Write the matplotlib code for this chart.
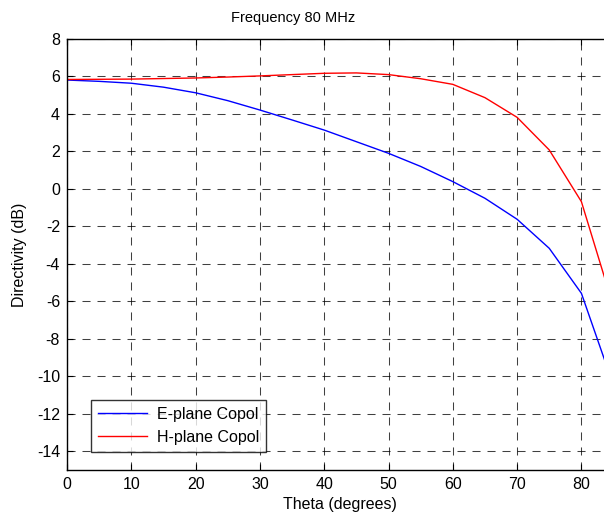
import matplotlib
matplotlib.use("Agg")
import matplotlib.pyplot as plt

plt.rcParams['font.family'] = ['Liberation Sans', 'DejaVu Sans']
plt.rcParams['axes.unicode_minus'] = False
plt.rcParams['lines.scale_dashes'] = False

theta = [0, 5, 10, 15, 20, 25, 30, 35, 40, 45, 50, 55, 60, 65, 70, 75, 80, 85]
e_plane = [5.81, 5.74, 5.64, 5.43, 5.13, 4.71, 4.21, 3.68, 3.14, 2.52, 1.90, 1.20,
           0.39, -0.50, -1.62, -3.17, -5.57, -10.5]
h_plane = [5.84, 5.85, 5.86, 5.89, 5.92, 5.97, 6.03, 6.10, 6.17, 6.19, 6.10, 5.88,
           5.58, 4.87, 3.82, 2.08, -0.68, -6.3]

xticks = [0, 10, 20, 30, 40, 50, 60, 70, 80]
yticks = list(range(-14, 9, 2))

W, H = 604, 515
fig = plt.figure(figsize=(W / 100, H / 100), dpi=100)
left, right, top, bottom = 67, 645.7, 39, 470
ax = fig.add_axes([left / W, (H - bottom) / H, (right - left) / W, (bottom - top) / H])

ax.plot(theta, e_plane, color='#0000ff', lw=1.0, label='E-plane Copol')
ax.plot(theta, h_plane, color='#ff0000', lw=1.0, label='H-plane Copol')

ax.set_xlim(0, 90)
ax.set_ylim(-15, 8)
ax.set_xticks(xticks)
ax.set_yticks(yticks)
ax.tick_params(direction='in', length=4, width=0.8, labelsize=11.5,
               top=True, right=True, colors='black', pad=5)
ax.grid(True, color='black', linestyle=(0, (5.8, 5.0)), linewidth=0.75, alpha=0.75)
for s in ax.spines.values():
    s.set_linewidth(1.0)

fig.text(293 / W, 1 - 18 / H, 'Frequency 80 MHz', ha='center', va='center', fontsize=10.5)
fig.text(340 / W, 1 - 505 / H, 'Theta (degrees)', ha='center', va='center', fontsize=11.5)
fig.text(20 / W, 1 - 255 / H, 'Directivity (dB)', ha='center', va='center',
         rotation=90, fontsize=11.5)

leg = ax.legend(loc='lower left',
                bbox_to_anchor=((90.7 - left) / (right - left), (bottom - 452) / (bottom - top)),
                fontsize=11.5, frameon=True, fancybox=False, borderaxespad=0,
                handlelength=3.1, handletextpad=0.6, borderpad=0.45, labelspacing=0.5)
leg.get_frame().set_edgecolor('black')
leg.get_frame().set_linewidth(1.0)

fig.savefig('out.png', dpi=100)
